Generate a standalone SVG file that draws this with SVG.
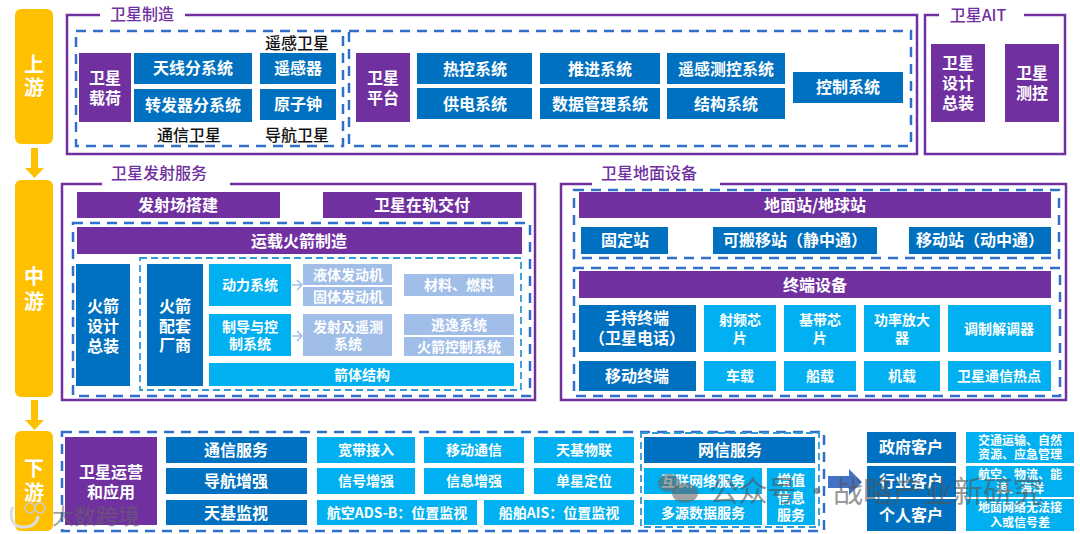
<svg xmlns="http://www.w3.org/2000/svg" width="1080" height="534" viewBox="0 0 1080 534">
<style>
text{font-family:"Noto Sans CJK SC","Liberation Sans",sans-serif;font-weight:700;text-anchor:middle;fill:#fff;font-size:16px}
.p{fill:#7030A0}.b{fill:#0070C0}.c{fill:#00B0F0}.l{fill:#A0BEE8}.y{fill:#FFC000}
.frame{fill:none;stroke:#7030A0;stroke-width:2.500}
.dash{fill:none;stroke:#2F6FCB;stroke-width:2.500;stroke-dasharray:10 7}
.dash2{fill:none;stroke:#2E9AD6;stroke-width:1.800;stroke-dasharray:7 4}
.t{fill:#7030A0;font-weight:500;font-size:16px}
.k{fill:#111;font-weight:500;font-size:16px}
.s{font-size:14px}.xs{font-size:12px}.lg{font-size:20px}
.wm{fill:#555;font-weight:400;opacity:.6}
</style>
<rect width="1080" height="534" fill="#fff"/>

<g id="frames">
<path class="frame" d="M100 15H67V154H917V15H185"/>
<path class="frame" d="M939 15H925V154H1065V15H1024"/>
<path class="frame" d="M102 184H62V400H535V184H230"/>
<path class="frame" d="M592 184H561V400H1066V184H720"/>
<rect class="dash" x="76" y="31" width="267" height="115"/>
<rect class="dash" x="349" y="31" width="562" height="115"/>
<rect class="dash" x="73" y="223" width="457" height="173"/>
<rect class="dash2" x="140" y="258" width="381" height="132"/>
<rect class="dash" x="574" y="190" width="485" height="68"/>
<rect class="dash" x="574" y="268" width="486" height="128"/>
<rect class="dash" x="62" y="432" width="762" height="99"/>
<rect class="dash2" x="641" y="433" width="178" height="94"/>
<text class="t" x="142" y="20">卫星制造</text>
<text class="t" x="978" y="21">卫星AIT</text>
<text class="t" x="159" y="179">卫星发射服务</text>
<text class="t" x="649" y="179">卫星地面设备</text>
<text class="k" x="297" y="49">遥感卫星</text>
<text class="k" x="189" y="141">通信卫星</text>
<text class="k" x="297" y="141">导航卫星</text>
</g>

<g id="connectors">
<path class="y" d="M31 148H38V168H44L34.500 178L25 168H31Z"/>
<path class="y" d="M31 400H38V420H44L34.500 430L25 420H31Z"/>
<path d="M292 285H302M297 280L302 285L297 290" fill="none" stroke="#A0BEE8" stroke-width="1.500"/>
<path d="M292 336H302M297 331L302 336L297 341" fill="none" stroke="#A0BEE8" stroke-width="1.500"/>
<path d="M828 476H849V469L862 482L849 495V488H828Z" fill="#4472C4"/>
</g>

<g id="n-up"><rect class="y" x="15" y="9" width="38" height="135" rx="6"/><text class="lg" x="34" y="72">上</text><text class="lg" x="34" y="95">游</text></g>
<g id="n-mid"><rect class="y" x="15" y="180" width="38" height="217" rx="6"/><text class="lg" x="34" y="284">中</text><text class="lg" x="34" y="309">游</text></g>
<g id="n-down"><rect class="y" x="15" y="431" width="38" height="100" rx="6"/><text class="lg" x="34" y="476">下</text><text class="lg" x="34" y="500">游</text></g>

<g id="n1"><rect class="p" x="79" y="53" width="52" height="69"/><text x="105" y="84">卫星</text><text x="105" y="104">载荷</text></g>
<g id="n2"><rect class="b" x="134" y="53" width="118" height="31"/><text x="193" y="74">天线分系统</text></g>
<g id="n3"><rect class="b" x="134" y="89" width="118" height="33"/><text x="193" y="111">转发器分系统</text></g>
<g id="n4"><rect class="b" x="260" y="53" width="76" height="31"/><text x="298" y="74">遥感器</text></g>
<g id="n5"><rect class="b" x="260" y="89" width="76" height="31"/><text x="298" y="110">原子钟</text></g>
<g id="n6"><rect class="p" x="356" y="53" width="54" height="69"/><text x="383" y="84">卫星</text><text x="383" y="104">平台</text></g>
<g id="n7"><rect class="b" x="417" y="53" width="115" height="31"/><text x="475" y="75">热控系统</text></g>
<g id="n8"><rect class="b" x="417" y="88" width="115" height="31"/><text x="475" y="110">供电系统</text></g>
<g id="n9"><rect class="b" x="540" y="53" width="120" height="31"/><text x="600" y="75">推进系统</text></g>
<g id="n10"><rect class="b" x="540" y="88" width="120" height="31"/><text x="600" y="110">数据管理系统</text></g>
<g id="n11"><rect class="b" x="667" y="53" width="118" height="31"/><text x="726" y="75">遥感测控系统</text></g>
<g id="n12"><rect class="b" x="667" y="88" width="118" height="31"/><text x="726" y="110">结构系统</text></g>
<g id="n13"><rect class="b" x="793" y="72" width="110" height="31"/><text x="848" y="93">控制系统</text></g>
<g id="n14"><rect class="p" x="931" y="44" width="54" height="78"/><text x="958" y="69">卫星</text><text x="958" y="89">设计</text><text x="958" y="109">总装</text></g>
<g id="n15"><rect class="p" x="1005" y="44" width="54" height="78"/><text x="1032" y="79">卫星</text><text x="1032" y="99">测控</text></g>

<g id="n16"><rect class="p" x="77" y="192" width="203" height="26"/><text x="178" y="211">发射场搭建</text></g>
<g id="n17"><rect class="p" x="323" y="192" width="199" height="26"/><text x="422" y="211">卫星在轨交付</text></g>
<g id="n18"><rect class="p" x="77" y="227" width="445" height="27"/><text x="299" y="247">运载火箭制造</text></g>
<g id="n19"><rect class="b" x="76" y="264" width="54" height="122"/><text x="103" y="312">火箭</text><text x="103" y="332">设计</text><text x="103" y="352">总装</text></g>
<g id="n20"><rect class="b" x="147" y="264" width="56" height="122"/><text x="175" y="312">火箭</text><text x="175" y="332">配套</text><text x="175" y="351">厂商</text></g>
<g id="n21"><rect class="c" x="209" y="264" width="82" height="42"/><text class="s" x="250" y="290">动力系统</text></g>
<g id="n22"><rect class="l" x="303" y="264" width="89" height="21"/><text class="s" x="348" y="280">液体发动机</text></g>
<g id="n23"><rect class="l" x="303" y="287" width="89" height="19"/><text class="s" x="348" y="302">固体发动机</text></g>
<g id="n24"><rect class="l" x="404" y="274" width="110" height="22"/><text class="s" x="459" y="290">材料、燃料</text></g>
<g id="n25"><rect class="c" x="209" y="314" width="82" height="42"/><text class="s" x="250" y="332">制导与控</text><text class="s" x="250" y="349">制系统</text></g>
<g id="n26"><rect class="l" x="303" y="314" width="89" height="42"/><text class="s" x="348" y="332">发射及遥测</text><text class="s" x="348" y="349">系统</text></g>
<g id="n27"><rect class="l" x="404" y="314" width="110" height="21"/><text class="s" x="459" y="330">逃逸系统</text></g>
<g id="n28"><rect class="l" x="404" y="337" width="110" height="19"/><text class="s" x="459" y="352">火箭控制系统</text></g>
<g id="n29"><rect class="c" x="209" y="363" width="305" height="23"/><text class="s" x="362" y="380">箭体结构</text></g>

<g id="n30"><rect class="p" x="579" y="192" width="472" height="26"/><text x="815" y="211">地面站/地球站</text></g>
<g id="n31"><rect class="b" x="581" y="227" width="87" height="27"/><text x="625" y="246">固定站</text></g>
<g id="n32"><rect class="b" x="713" y="227" width="164" height="27"/><text x="795" y="246">可搬移站（静中通）</text></g>
<g id="n33"><rect class="b" x="909" y="227" width="142" height="27"/><text x="980" y="246">移动站（动中通）</text></g>
<g id="n34"><rect class="p" x="579" y="271" width="472" height="27"/><text x="815" y="291">终端设备</text></g>
<g id="n35"><rect class="b" x="579" y="305" width="117" height="47"/><text x="637" y="324">手持终端</text><text x="637" y="344">（卫星电话）</text></g>
<g id="n36"><rect class="c" x="704" y="305" width="72" height="47"/><text class="s" x="740" y="325">射频芯</text><text class="s" x="740" y="343">片</text></g>
<g id="n37"><rect class="c" x="784" y="305" width="72" height="47"/><text class="s" x="820" y="325">基带芯</text><text class="s" x="820" y="343">片</text></g>
<g id="n38"><rect class="c" x="864" y="305" width="76" height="47"/><text class="s" x="902" y="325">功率放大</text><text class="s" x="902" y="343">器</text></g>
<g id="n39"><rect class="c" x="948" y="305" width="103" height="47"/><text class="s" x="999" y="334">调制解调器</text></g>
<g id="n40"><rect class="b" x="579" y="361" width="117" height="30"/><text x="637" y="382">移动终端</text></g>
<g id="n41"><rect class="c" x="704" y="361" width="72" height="30"/><text class="s" x="740" y="381">车载</text></g>
<g id="n42"><rect class="c" x="784" y="361" width="72" height="30"/><text class="s" x="820" y="381">船载</text></g>
<g id="n43"><rect class="c" x="864" y="361" width="76" height="30"/><text class="s" x="902" y="381">机载</text></g>
<g id="n44"><rect class="c" x="948" y="361" width="103" height="30"/><text class="s" x="999" y="381">卫星通信热点</text></g>

<g id="n45"><rect class="p" x="65" y="437" width="92" height="88"/><text x="111" y="478">卫星运营</text><text x="111" y="498">和应用</text></g>
<g id="n46"><rect class="b" x="166" y="437" width="141" height="26"/><text x="236" y="456">通信服务</text></g>
<g id="n47"><rect class="b" x="166" y="468" width="141" height="26"/><text x="236" y="487">导航增强</text></g>
<g id="n48"><rect class="b" x="166" y="500" width="141" height="25"/><text x="236" y="519">天基监视</text></g>
<g id="n49"><rect class="c" x="317" y="437" width="98" height="26"/><text class="s" x="366" y="455">宽带接入</text></g>
<g id="n50"><rect class="c" x="424" y="437" width="100" height="26"/><text class="s" x="474" y="455">移动通信</text></g>
<g id="n51"><rect class="c" x="534" y="437" width="100" height="26"/><text class="s" x="584" y="455">天基物联</text></g>
<g id="n52"><rect class="c" x="317" y="468" width="98" height="26"/><text class="s" x="366" y="486">信号增强</text></g>
<g id="n53"><rect class="c" x="424" y="468" width="100" height="26"/><text class="s" x="474" y="486">信息增强</text></g>
<g id="n54"><rect class="c" x="534" y="468" width="100" height="26"/><text class="s" x="584" y="486">单星定位</text></g>
<g id="n55"><rect class="c" x="317" y="500" width="160" height="25"/><text class="s" x="397" y="518">航空ADS-B：位置监视</text></g>
<g id="n56"><rect class="c" x="484" y="500" width="150" height="25"/><text class="s" x="559" y="518">船舶AIS：位置监视</text></g>
<g id="n57"><rect class="b" x="644" y="437" width="171" height="26"/><text x="730" y="456">网信服务</text></g>
<g id="n58"><rect class="c" x="644" y="468" width="118" height="26"/><text class="s" x="703" y="486">互联网络服务</text></g>
<g id="n59"><rect class="c" x="644" y="500" width="118" height="25"/><text class="s" x="703" y="518">多源数据服务</text></g>
<g id="n60"><rect class="c" x="767" y="468" width="48" height="57"/><text class="s" x="791" y="485">增值</text><text class="s" x="791" y="503">信息</text><text class="s" x="791" y="520">服务</text></g>
<g id="n61"><rect class="b" x="867" y="432" width="89" height="31"/><text x="911" y="453">政府客户</text></g>
<g id="n62"><rect class="b" x="867" y="466" width="89" height="31"/><text x="911" y="487">行业客户</text></g>
<g id="n63"><rect class="b" x="867" y="499" width="89" height="32"/><text x="911" y="521">个人客户</text></g>
<g id="n64"><rect class="c" x="966" y="432" width="108" height="31"/><text class="xs" x="1020" y="445">交通运输、自然</text><text class="xs" x="1020" y="459">资源、应急管理</text></g>
<g id="n65"><rect class="c" x="966" y="466" width="108" height="31"/><text class="xs" x="1020" y="479">航空、物流、能</text><text class="xs" x="1020" y="493">源、海洋</text></g>
<g id="n66"><rect class="c" x="966" y="499" width="108" height="32"/><text class="xs" x="1020" y="512">地面网络无法接</text><text class="xs" x="1020" y="527">入或信号差</text></g>

<g id="watermarks">
<ellipse cx="669" cy="483" rx="11" ry="9" fill="#666" opacity=".6"/>
<ellipse cx="685" cy="493" rx="13" ry="10" fill="#666" opacity=".6"/>
<text class="wm" x="753" y="502" style="font-size:29px">公众号</text>
<text class="wm" x="817" y="502" style="font-size:29px">·</text>
<text class="wm" x="938" y="502" style="font-size:30px">战略产业新研究</text>
<text class="wm" x="96" y="524" style="font-size:22px;fill:#666">大数跨境</text>
<path d="M13 507C8 518 14 528 24 527C34 527 38 521 38 516" fill="none" stroke="#ddd" stroke-width="3"/>
<circle cx="30" cy="508" r="5" fill="none" stroke="#ccc" stroke-width="1.500"/>
<circle cx="40" cy="508" r="5" fill="none" stroke="#ccc" stroke-width="1.500"/>
</g>
</svg>
